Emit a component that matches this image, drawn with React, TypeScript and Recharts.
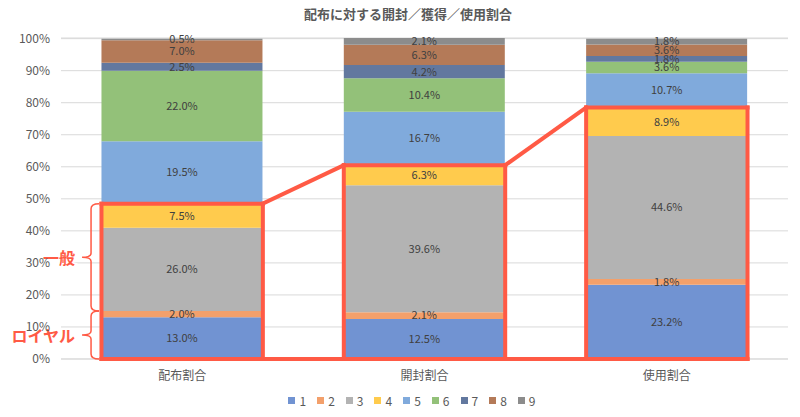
import React from 'react';
import { BarChart, Bar, XAxis, YAxis, CartesianGrid, Legend, LabelList, ReferenceLine } from 'recharts';

// categories and stacked series (percent)
const categories = ['配布割合', '開封割合', '使用割合'];
const s1 = [13.0, 12.5, 23.2];
const s2 = [2.0, 2.1, 1.8];
const s3 = [26.0, 39.6, 44.6];
const s4 = [7.5, 6.3, 8.9];
const s5 = [19.5, 16.7, 10.7];
const s6 = [22.0, 10.4, 3.6];
const s7 = [2.5, 4.2, 1.8];
const s8 = [7.0, 6.3, 3.6];
const s9 = [0.5, 2.1, 1.8];
const seriesNames = ['1', '2', '3', '4', '5', '6', '7', '8', '9'];
const seriesColors = ['#7193D2', '#F3A06B', '#B3B3B3', '#FFCB4D', '#80AADC', '#93C179', '#62789F', '#B47A58', '#8C8C8C'];
const yTicks = [0, 10, 20, 30, 40, 50, 60, 70, 80, 90, 100];
const groupLabels = ['一般', 'ロイヤル'];

const seriesValues = [s1, s2, s3, s4, s5, s6, s7, s8, s9];
const chartData = categories.map((name, i) => {
    const row: any = { name, pos: i + 0.5 };
    seriesValues.forEach((vals, k) => { row[`s${k + 1}`] = vals[i]; });
    return row;
});

// tops of the highlighted part (series 1-4) per category
const boxTops = categories.map((_, i) => s1[i] + s2[i] + s3[i] + s4[i]);
const royalTop = s1[0] + s2[0];

const RED = '#FF5A45';
const GAP = 0.167; // matches barCategoryGap
const BRACE_X = 0.124;
const FONT = '"Noto Sans CJK JP", "Noto Sans", sans-serif';

// segments outlining each highlighted box (left, top, right); bottom is one shared line
const boxSegments = boxTops.flatMap((top, i) => [
    [{ x: i + GAP, y: 0 }, { x: i + GAP, y: top }],
    [{ x: i + GAP, y: top }, { x: i + 1 - GAP, y: top }],
    [{ x: i + 1 - GAP, y: top }, { x: i + 1 - GAP, y: 0 }],
]);
const linkSegments = boxTops.slice(0, -1).map((top, i) => [
    { x: i + 1 - GAP, y: top }, { x: i + 1 + GAP, y: boxTops[i + 1] },
]);

const braceShape = (label: string) => (props: any) => {
    const { x1, y1, y2 } = props;
    const x = x1;
    const top = Math.min(y1, y2);
    const bottom = Math.max(y1, y2);
    const mid = (top + bottom) / 2;
    const d = `M${x + 8},${top} Q${x},${top} ${x},${top + 5} L${x},${mid - 4} Q${x},${mid} ${x - 9},${mid} Q${x},${mid} ${x},${mid + 4} L${x},${bottom - 5} Q${x},${bottom} ${x + 8},${bottom}`;
    return (
        <g>
            <path d={d} fill="none" stroke={RED} strokeWidth={1.5} />
            <text x={x - 16} y={mid} textAnchor="end" dominantBaseline="central" fontSize={16} fontWeight="bold"
                fill={RED} stroke="#fff" strokeWidth={3} paintOrder="stroke" fontFamily={FONT}>{label}</text>
        </g>
    );
};

const LegendContent = () => (
    <div style={{ display: 'flex', justifyContent: 'center', gap: 11, paddingLeft: 28, fontSize: 12, color: '#595959', fontFamily: FONT }}>
        {seriesNames.map((n, i) => (
            <span key={n} style={{ display: 'flex', alignItems: 'center', gap: 4 }}>
                <span style={{ width: 7, height: 7, background: seriesColors[i], display: 'inline-block' }} />
                {n}
            </span>
        ))}
    </div>
);

const App: React.FC = () => {
    return (
        <div style={{ position: 'relative', width: 784, height: 409, fontFamily: FONT }}>
            <div style={{ position: 'absolute', top: -2, left: 0, width: 784, paddingLeft: 16, boxSizing: 'border-box', textAlign: 'center', fontSize: 13, fontWeight: 'bold', color: '#595959', lineHeight: '16px' }}>
                配布に対する開封／獲得／使用割合
            </div>
            <BarChart width={784} height={409} data={chartData} margin={{ top: 30, right: 4, bottom: 3, left: 0 }}
                barCategoryGap="16.7%">
                <CartesianGrid vertical={false} stroke="#D9D9D9" />
                <XAxis dataKey="name" tickLine={false} axisLine={{ stroke: '#D9D9D9' }} height={33} tickMargin={6}
                    tick={{ fill: '#595959', fontSize: 12 }} />
                <XAxis xAxisId="num" dataKey="pos" type="number" domain={[0, 3]} allowDataOverflow hide />
                <YAxis domain={[0, 100]} ticks={yTicks} tickFormatter={(v: number) => `${v}%`} width={53}
                    tickLine={false} axisLine={false} tickMargin={5} tick={{ fill: '#595959', fontSize: 12 }} />
                <Legend verticalAlign="bottom" height={22} content={LegendContent} />
                {seriesNames.map((n, k) => (
                    <Bar key={n} dataKey={`s${k + 1}`} name={n} stackId="a" fill={seriesColors[k]} isAnimationActive={false}>
                        <LabelList dataKey={`s${k + 1}`} position="center" fill="#404040" fontSize={11}
                            formatter={(v: any) => `${Number(v).toFixed(1)}%`} />
                    </Bar>
                ))}
                {[...boxSegments, ...linkSegments].map((seg, i) => (
                    <ReferenceLine key={`seg${i}`} xAxisId="num" ifOverflow="visible" stroke={RED} strokeWidth={4}
                        strokeLinecap="square" segment={seg} zIndex={900} />
                ))}
                <ReferenceLine xAxisId="num" ifOverflow="visible" stroke={RED} strokeWidth={4} strokeLinecap="square"
                    segment={[{ x: GAP, y: 0 }, { x: 3 - GAP, y: 0 }]} zIndex={900} />
                <ReferenceLine xAxisId="num" ifOverflow="visible" segment={[{ x: BRACE_X, y: royalTop }, { x: BRACE_X, y: boxTops[0] }]}
                    shape={braceShape(groupLabels[0])} zIndex={900} />
                <ReferenceLine xAxisId="num" ifOverflow="visible" segment={[{ x: BRACE_X, y: 0 }, { x: BRACE_X, y: royalTop }]}
                    shape={braceShape(groupLabels[1])} zIndex={900} />
            </BarChart>
        </div>
    );
};

export default App;
